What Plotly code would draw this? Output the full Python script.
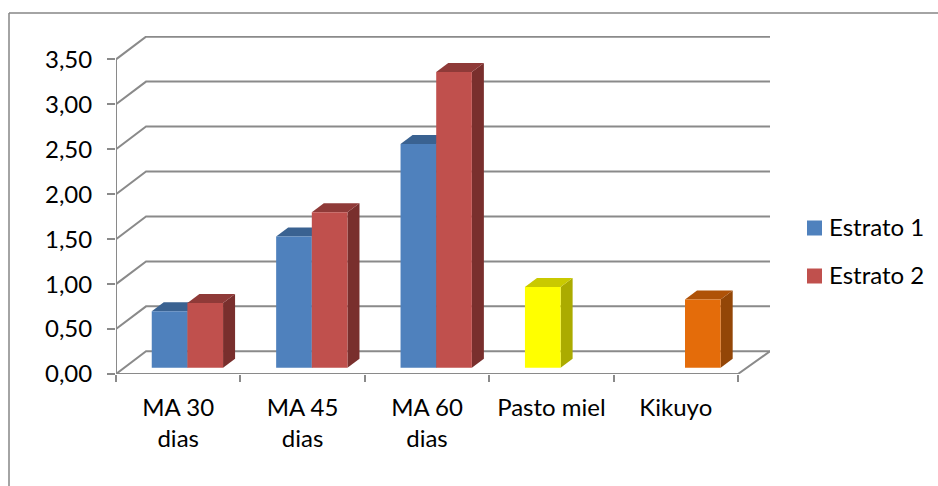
import plotly.graph_objects as go

categories = ["MA 30<br>dias", "MA 45<br>dias", "MA 60<br>dias", "Pasto miel", "Kikuyo"]
y_ticks = [0, 0.5, 1, 1.5, 2, 2.5, 3, 3.5]

estrato_1 = [0.63, 1.46, 2.49, 0.90, None]
estrato_2 = [0.72, 1.73, 3.29, None, 0.76]

# front, top and side colour of each bar
colors_1 = ["#4F81BD", "#4F81BD", "#4F81BD", "#FFFF00", "#4F81BD"]
tops_1 = ["#3A6291", "#3A6291", "#3A6291", "#C9C900", "#3A6291"]
sides_1 = ["#325379", "#325379", "#325379", "#ABAB00", "#325379"]
colors_2 = ["#C0504D", "#C0504D", "#C0504D", "#C0504D", "#E46C0A"]
tops_2 = ["#8F3A38", "#8F3A38", "#8F3A38", "#8F3A38", "#AF5208"]
sides_2 = ["#792F2D", "#792F2D", "#792F2D", "#792F2D", "#934607"]

FONT = "Lato"
FONT_SIZE = 24
GRID = "#8A8A8A"

# pixel layout of the front plane
W, H = 938, 486
LEFT, RIGHT, TOP, BOTTOM = 116, 168, 36, 112
PLOT_W = W - LEFT - RIGHT
PLOT_H = H - TOP - BOTTOM
X_MAX = PLOT_W / 124.4
Y_MAX = PLOT_H / 89.9

# oblique depth of the walls and of the bars, in axis units
WALL_X, WALL_Y = 0.2415, 0.2525
BAR_X, BAR_Y = 0.0966, 0.10
BAR_W = 0.2866
LIFT = 0.069
OFFSET_1, OFFSET_2 = 0.2874, 0.5740


def paper_x(px):
    return (px - LEFT) / PLOT_W


def paper_y(py):
    return (H - BOTTOM - py) / PLOT_H


def face_trace(xs, ys, color, zorder):
    return go.Scatter(x=xs, y=ys, mode="lines", fill="toself", fillcolor=color,
                      line=dict(width=0), hoverinfo="skip", showlegend=False,
                      cliponaxis=False, zorder=zorder)


def add_series(fig, name, values, offset, colors, tops, sides, zorder):
    # side and top faces first, the front bar goes over them
    for i, v in enumerate(values):
        if v is None:
            continue
        x0 = i + offset
        x1 = x0 + BAR_W
        y0 = LIFT
        y1 = LIFT + v
        fig.add_trace(face_trace([x1, x1 + BAR_X, x1 + BAR_X, x1, x1],
                                 [y0, y0 + BAR_Y, y1 + BAR_Y, y1, y0], sides[i], zorder))
        fig.add_trace(face_trace([x0, x0 + BAR_X, x1 + BAR_X, x1, x0],
                                 [y1, y1 + BAR_Y, y1 + BAR_Y, y1, y1], tops[i], zorder))
    fig.add_trace(go.Bar(x=list(range(len(values))), y=values, base=LIFT, name=name,
                         offset=offset, width=BAR_W, marker=dict(color=colors, line=dict(width=0)),
                         showlegend=False, zorder=zorder + 1))


fig = go.Figure()

# walls and floor
grid_x, grid_y = [], []
for v in y_ticks:
    grid_x += [0, WALL_X, X_MAX, None]
    grid_y += [v, v + WALL_Y, v + WALL_Y, None]
grid_x += [0, len(categories), X_MAX, None, 0, 0]
grid_y += [0, 0, WALL_Y, None, 0, y_ticks[-1]]
fig.add_trace(go.Scatter(x=grid_x, y=grid_y, mode="lines", line=dict(color=GRID, width=2),
                         hoverinfo="skip", showlegend=False, cliponaxis=False, zorder=0))

add_series(fig, "Estrato 1", estrato_1, OFFSET_1, colors_1, tops_1, sides_1, 1)
add_series(fig, "Estrato 2", estrato_2, OFFSET_2, colors_2, tops_2, sides_2, 3)

fig.update_layout(
    width=W, height=H,
    margin=dict(l=LEFT, r=RIGHT, t=TOP, b=BOTTOM),
    paper_bgcolor="white", plot_bgcolor="white",
    separators=",.",
    barmode="overlay",
    showlegend=False,
    font=dict(family=FONT, size=FONT_SIZE, color="black"),
)

fig.update_xaxes(
    range=[0, X_MAX], showgrid=False, zeroline=False, showline=False,
    tickmode="array", tickvals=[i + 0.5 for i in range(len(categories))], ticktext=categories,
    ticks="", ticklabelstandoff=17,
    minor=dict(tickmode="array", tickvals=list(range(len(categories) + 1)), ticks="outside",
               ticklen=7, tickwidth=2, tickcolor=GRID, showgrid=False),
)
fig.update_yaxes(
    range=[0, Y_MAX], showgrid=False, zeroline=False, showline=False,
    tickmode="array", tickvals=y_ticks, tickformat=".2f",
    ticks="outside", ticklen=8, tickwidth=2, tickcolor=GRID, ticklabelstandoff=10,
)

# chart frame, only the left and top edges are in the picture
frame = dict(type="line", xref="paper", yref="paper", line=dict(color="#868686", width=1.5))
fig.add_shape(x0=paper_x(9), x1=paper_x(9), y0=paper_y(13), y1=paper_y(H), **frame)
fig.add_shape(x0=paper_x(9), x1=paper_x(W), y0=paper_y(13), y1=paper_y(13), **frame)

# legend
for name, color, py in [("Estrato 1", colors_1[0], 228), ("Estrato 2", colors_2[0], 276)]:
    fig.add_shape(type="rect", xref="paper", yref="paper", x0=paper_x(807), x1=paper_x(822),
                  y0=paper_y(py + 7.5), y1=paper_y(py - 7.5), fillcolor=color, line=dict(width=0))
    fig.add_annotation(text=name, xref="paper", yref="paper", x=paper_x(828), y=paper_y(py - 1.5),
                       xanchor="left", yanchor="middle", showarrow=False, borderpad=0)

# the page margin would push the chart off the 938x486 window
fig.write_html("out.html", config={"displayModeBar": False},
               post_script="document.body.style.margin = '0';")
